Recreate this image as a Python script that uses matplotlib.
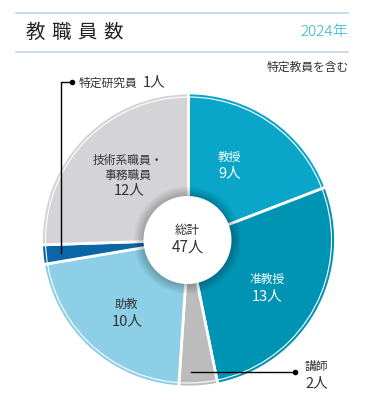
import matplotlib.pyplot as plt
from matplotlib.patches import Circle

plt.rcParams['font.family'] = ['Noto Sans CJK JP', 'DejaVu Sans']

W, H = 386, 415

# data (clockwise from top)
labels = ['教授', '准教授', '講師', '助教', '特定研究員', '技術系職員・事務職員']
counts = [9, 13, 2, 10, 1, 12]
colors = ['#0aa6c9', '#0094b4', '#bcbcbc', '#8dcfe6', '#0b66a8', '#d4d4d7']
total = sum(counts)

CX, CY, R = 188.5, 240, 147


def Y(y):
    return H - y


fig = plt.figure(figsize=(W / 100, H / 100), dpi=100)
ax = fig.add_axes([0, 0, 1, 1])

ax.pie(counts, colors=colors, startangle=90, counterclock=False,
       center=(CX, Y(CY)), radius=R, frame=True,
       wedgeprops=dict(edgecolor='white', linewidth=2))
ax.set_xlim(0, W)
ax.set_ylim(0, H)
ax.set_aspect('auto')
ax.axis('off')

# thin white ring near outer edge
ax.add_patch(Circle((CX, Y(CY)), R - 4, fill=False, edgecolor='white', lw=0.8, zorder=3))

# soft shadow around centre disc
for k in range(10, 0, -1):
    ax.add_patch(Circle((CX - 1, Y(CY)), 44 + k, color='black', alpha=0.025, lw=0, zorder=4))
ax.add_patch(Circle((CX - 1, Y(CY)), 44, color='white', lw=0, zorder=5))

dark = '#333333'
ax.text(CX - 1, Y(230), '総計', ha='center', va='center', fontsize=9, color=dark, zorder=6)
ax.text(CX - 1, Y(247), f'{total}人', ha='center', va='center', fontsize=11, color=dark, zorder=6)

# labels inside wedges
ax.text(230, Y(157), labels[0], ha='center', va='center', fontsize=8.5, color='white', zorder=6)
ax.text(230, Y(173), f'{counts[0]}人', ha='center', va='center', fontsize=10.5, color='white', zorder=6)
ax.text(267, Y(279), labels[1], ha='center', va='center', fontsize=8.5, color='white', zorder=6)
ax.text(267, Y(296), f'{counts[1]}人', ha='center', va='center', fontsize=10.5, color='white', zorder=6)
ax.text(126, Y(304), labels[3], ha='center', va='center', fontsize=8.5, color=dark, zorder=6)
ax.text(127, Y(321), f'{counts[3]}人', ha='center', va='center', fontsize=10.5, color=dark, zorder=6)
ax.text(128, Y(160), '技術系職員・', ha='center', va='center', fontsize=8.5, color=dark, zorder=6)
ax.text(128, Y(175), '事務職員', ha='center', va='center', fontsize=8.5, color=dark, zorder=6)
ax.text(129, Y(190), f'{counts[5]}人', ha='center', va='center', fontsize=10.5, color=dark, zorder=6)

# callout: 特定研究員
ax.plot([61, 61, 72], [Y(253), Y(82), Y(82)], color='black', lw=1, zorder=7,
        solid_joinstyle='miter')
ax.plot([72], [Y(82)], 'o', color='black', ms=3, zorder=7)
ax.text(79, Y(83), labels[4], ha='left', va='center', fontsize=8.5, color=dark)
ax.text(143, Y(82), f'{counts[4]}人', ha='left', va='center', fontsize=10.5, color=dark)

# callout: 講師
ax.plot([191, 295], [Y(372), Y(372)], color='black', lw=1, zorder=7)
ax.plot([295], [Y(372)], 'o', color='black', ms=3, zorder=7)
ax.text(305, Y(366), labels[2], ha='left', va='center', fontsize=8.5, color=dark)
ax.text(305, Y(383), f'{counts[2]}人', ha='left', va='center', fontsize=10.5, color=dark)

# header
ax.plot([16, 348], [Y(13), Y(13)], color='#c6d9ea', lw=1.3)
ax.plot([16, 348], [Y(52), Y(52)], color='#c6d9ea', lw=1.3)
for i, ch in enumerate('教職員数'):
    ax.text(35 + i * 26, Y(32), ch, ha='center', va='center', fontsize=14, color='#222222')
ax.text(348, Y(32), '2024年', ha='right', va='center', fontsize=11, color='#2cb3d4',
        fontweight='light')
ax.text(349, Y(67), '特定教員を含む', ha='right', va='center', fontsize=8.5, color=dark)

fig.savefig('out.png', dpi=100)
